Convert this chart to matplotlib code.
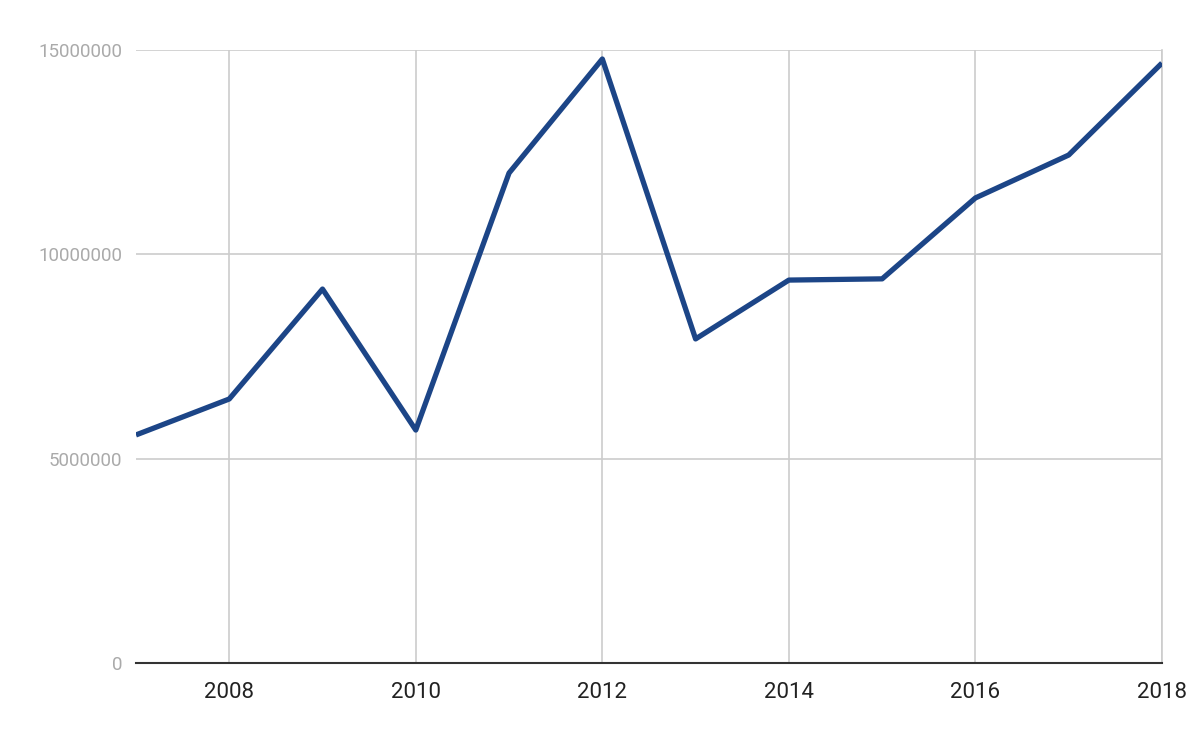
import matplotlib
matplotlib.use('Agg')
import matplotlib.pyplot as plt

plt.rcParams['font.family'] = ['Roboto', 'DejaVu Sans']

# values
years = [2007, 2008, 2009, 2010, 2011, 2012, 2013, 2014, 2015, 2016, 2017, 2018]
values = [5580000, 6460000, 9150000, 5700000, 11990000, 14780000,
          7930000, 9370000, 9400000, 11380000, 12430000, 14680000]
x_ticks = [2008, 2010, 2012, 2014, 2016, 2018]
y_ticks = [0, 5000000, 10000000, 15000000]

fig = plt.figure(figsize=(12, 7.42), dpi=100)
ax = fig.add_axes([0.1133, 0.1065, 0.855, 0.8261])

ax.plot(years, values, color='#1c4587', linewidth=3.8, solid_capstyle='butt', zorder=3)

ax.set_xlim(2007, 2018)
ax.set_ylim(0, 15000000)
ax.set_xticks(x_ticks)
ax.set_xticklabels([str(y) for y in x_ticks])
ax.set_yticks(y_ticks)
ax.set_yticklabels([str(v) for v in y_ticks])

ax.grid(True, color='#cccccc', linewidth=1.2)
ax.set_axisbelow(True)
for s in ['left', 'top']:
    ax.spines[s].set_visible(False)
ax.spines['right'].set_color('#cccccc')
ax.spines['right'].set_linewidth(1.2)
ax.spines['bottom'].set_color('#333333')
ax.spines['bottom'].set_linewidth(1.5)
ax.spines['bottom'].set_zorder(4)

ax.tick_params(axis='x', length=0, labelsize=16, labelcolor='#222222', pad=14)
ax.tick_params(axis='y', length=0, labelsize=13.5, labelcolor='#aaaaaa', pad=10)

plt.savefig('out.png', dpi=100)
